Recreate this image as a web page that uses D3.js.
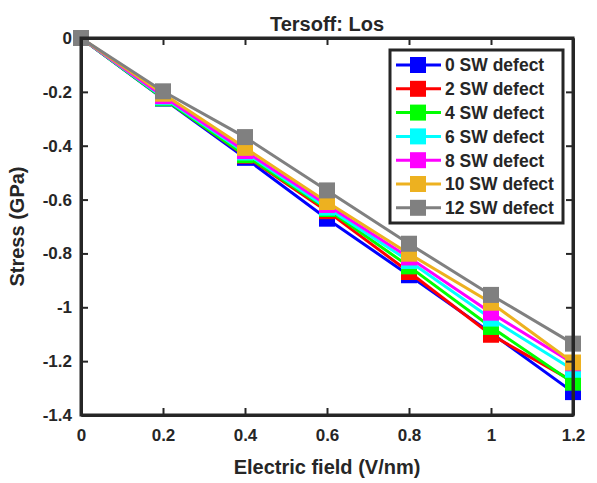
<!DOCTYPE html>
<html>
<head>
<meta charset="utf-8">
<script src="https://cdn.jsdelivr.net/npm/d3@7/dist/d3.min.js"></script>
<style>
    body { margin: 0; background: #fff; }
    svg text { font-family: "Liberation Sans", Arial, sans-serif; font-weight: bold; fill: #262626; }
</style>
</head>
<body>
<svg id="chart" width="597" height="483"></svg>
<script>
var fields = [0, 0.2, 0.4, 0.6, 0.8, 1.0, 1.2];
var seriesNames = ['0 SW defect', '2 SW defect', '4 SW defect', '6 SW defect',
    '8 SW defect', '10 SW defect', '12 SW defect'];
var seriesColors = ['#0000ff', '#ff0000', '#00ff00', '#00ffff', '#ff00ff', '#edb120', '#808080'];
var sw0 = [0, -0.225, -0.445, -0.671, -0.881, -1.095, -1.315];
var sw2 = [0, -0.222, -0.437, -0.643, -0.869, -1.102, -1.275];
var sw4 = [0, -0.224, -0.435, -0.635, -0.848, -1.073, -1.280];
var sw6 = [0, -0.220, -0.425, -0.630, -0.828, -1.042, -1.232];
var sw8 = [0, -0.216, -0.420, -0.620, -0.815, -1.020, -1.208];
var sw10 = [0, -0.207, -0.408, -0.609, -0.801, -0.983, -1.205];
var sw12 = [0, -0.198, -0.368, -0.566, -0.764, -0.954, -1.135];
var xTicks = [0, 0.2, 0.4, 0.6, 0.8, 1, 1.2];
var yTicks = [0, -0.2, -0.4, -0.6, -0.8, -1, -1.2, -1.4];

var allSeries = [sw0, sw2, sw4, sw6, sw8, sw10, sw12];

var plotLeft = 81, plotRight = 573, plotTop = 38, plotBottom = 415,
    axisColor = '#262626',
    markerSize = 16,
    tickLen = 7;

var svg = d3.select('#chart');

var x = d3.scaleLinear().domain([0, 1.2]).range([plotLeft, plotRight]);
var y = d3.scaleLinear().domain([-1.4, 0]).range([plotBottom, plotTop]);

// matlab style labels, plain hyphen for minus
var tickFmt = function(d) { return String(+d.toFixed(2)); };

// lines and markers, later series drawn on top
var line = d3.line()
    .x(function(d, i) { return x(fields[i]); })
    .y(function(d) { return y(d); });

var groups = svg.selectAll('g.series')
    .data(allSeries)
    .enter()
    .append('g')
        .attr('class', 'series');

groups.append('path')
    .attr('d', line)
    .attr('fill', 'none')
    .attr('stroke-width', 3)
    .attr('stroke', function(d, i) { return seriesColors[i]; });

groups.each(function(values, k) {
    d3.select(this).selectAll('rect')
        .data(values)
        .enter()
        .append('rect')
            .attr('x', function(d, i) { return x(fields[i]) - markerSize / 2; })
            .attr('y', function(d) { return y(d) - markerSize / 2; })
            .attr('width', markerSize)
            .attr('height', markerSize)
            .attr('fill', seriesColors[k]);
});

// axes box with inward ticks on all sides
var xAxisB = d3.axisBottom(x).tickValues(xTicks).tickSizeInner(-tickLen).tickSizeOuter(0)
    .tickFormat(tickFmt).tickPadding(14);
var xAxisT = d3.axisTop(x).tickValues(xTicks).tickSizeInner(-tickLen).tickSizeOuter(0).tickFormat('');
var yAxisL = d3.axisLeft(y).tickValues(yTicks).tickSizeInner(-tickLen).tickSizeOuter(0)
    .tickFormat(tickFmt).tickPadding(9);
var yAxisR = d3.axisRight(y).tickValues(yTicks).tickSizeInner(-tickLen).tickSizeOuter(0).tickFormat('');

var axes = [
    svg.append('g').attr('transform', 'translate(0,' + plotBottom + ')').call(xAxisB),
    svg.append('g').attr('transform', 'translate(0,' + plotTop + ')').call(xAxisT),
    svg.append('g').attr('transform', 'translate(' + plotLeft + ',0)').call(yAxisL),
    svg.append('g').attr('transform', 'translate(' + plotRight + ',0)').call(yAxisR)
];
axes.forEach(function(a) {
    a.select('.domain').attr('stroke', axisColor).attr('stroke-width', 3);
    a.selectAll('.tick line').attr('stroke', axisColor).attr('stroke-width', 2);
    a.selectAll('.tick text')
        .style('font-size', '17px')
        .style('font-family', '"Liberation Sans", Arial, sans-serif')
        .attr('fill', axisColor);
});
// close the corners
svg.append('rect')
    .attr('x', plotLeft).attr('y', plotTop)
    .attr('width', plotRight - plotLeft).attr('height', plotBottom - plotTop)
    .attr('fill', 'none')
    .attr('stroke', axisColor)
    .attr('stroke-width', 3);

// titles
svg.append('text')
    .attr('x', (plotLeft + plotRight) / 2)
    .attr('y', 31)
    .attr('text-anchor', 'middle')
    .style('font-size', '20px')
    .attr('fill', '#000')
    .text('Tersoff: Los');

svg.append('text')
    .attr('x', (plotLeft + plotRight) / 2)
    .attr('y', 474)
    .attr('text-anchor', 'middle')
    .style('font-size', '20px')
    .text('Electric field (V/nm)');

svg.append('text')
    .attr('transform', 'translate(24,' + ((plotTop + plotBottom) / 2) + ') rotate(-90)')
    .attr('text-anchor', 'middle')
    .style('font-size', '20px')
    .text('Stress (GPa)');

// legend
var legX = 390, legY = 50, legW = 173, legH = 173, legStep = 23.8;
var legend = svg.append('g');
legend.append('rect')
    .attr('x', legX).attr('y', legY)
    .attr('width', legW).attr('height', legH)
    .attr('fill', '#fff')
    .attr('stroke', axisColor)
    .attr('stroke-width', 3);

var items = legend.selectAll('g.item')
    .data(seriesNames)
    .enter()
    .append('g')
        .attr('class', 'item')
        .attr('transform', function(d, i) {
            return 'translate(' + legX + ',' + (legY + 15 + i * legStep) + ')';
        });

items.append('line')
    .attr('x1', 6).attr('x2', 51)
    .attr('stroke-width', 3)
    .attr('stroke', function(d, i) { return seriesColors[i]; });

items.append('rect')
    .attr('x', 28 - markerSize / 2).attr('y', -markerSize / 2)
    .attr('width', markerSize).attr('height', markerSize)
    .attr('fill', function(d, i) { return seriesColors[i]; });

items.append('text')
    .attr('x', 55)
    .attr('dy', '0.36em')
    .style('font-size', '17.5px')
    .attr('fill', '#000')
    .text(function(d) { return d; });
</script>
</body>
</html>
